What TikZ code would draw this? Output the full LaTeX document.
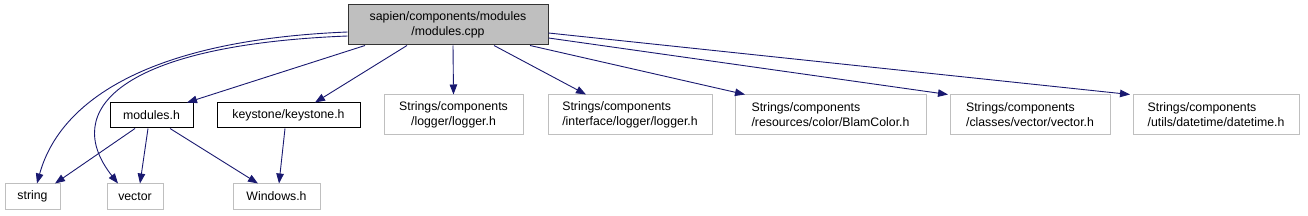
\documentclass[tikz,border=0pt]{standalone}
\usepackage{fontspec}
\setmainfont{Liberation Sans}
\usetikzlibrary{arrows.meta}
\definecolor{edgeblue}{HTML}{191970}
\definecolor{grayfill}{HTML}{BFBFBF}
\definecolor{grayline}{HTML}{BFBFBF}
\begin{document}
\begin{tikzpicture}[x=1pt,y=-1pt,
  every node/.style={font=\fontsize{12.3}{15}\selectfont, inner sep=0pt, text=black},
  ext/.style={draw=grayline, line width=1pt, fill=white},
  doc/.style={draw=black, line width=1pt, fill=white},
  rootbox/.style={draw=black!80, line width=1pt, fill=grayfill},
  dep/.style={draw=edgeblue, line width=0.9pt, -{Triangle[length=10pt,width=7.5pt]}}]
\useasboundingbox (0,0) rectangle (1308,216);
% nodes
\node[rootbox, minimum width=200pt, minimum height=40pt, align=center] (root) at (448,25) {sapien/components/modules\\/modules.cpp};
\node[doc, minimum width=83pt, minimum height=25pt] (modh) at (151.5,115.5) {modules.h};
\node[doc, minimum width=143pt, minimum height=25pt] (key) at (288.5,115.5) {keystone/keystone.h};
\node[ext, minimum width=55pt, minimum height=25pt] (str) at (32.5,196.5) {string};
\node[ext, minimum width=56pt, minimum height=25pt] (vec) at (135,196.5) {vector};
\node[ext, minimum width=87pt, minimum height=25pt] (win) at (276.5,196.5) {Windows.h};
\node[ext, minimum width=139pt, minimum height=40pt, align=center] (log) at (453.5,115) {Strings/components\\/logger/logger.h};
\node[ext, minimum width=164pt, minimum height=40pt, align=left] (intf) at (630,115) {Strings/components\\/interface/logger/logger.h};
\node[ext, minimum width=191pt, minimum height=40pt, align=left] (blam) at (830.5,115) {Strings/components\\/resources/color/BlamColor.h};
\node[ext, minimum width=160pt, minimum height=40pt, align=left] (cvec) at (1030,115) {Strings/components\\/classes/vector/vector.h};
\node[ext, minimum width=166pt, minimum height=40pt, align=left] (dt) at (1216,115) {Strings/components\\/utils/datetime/datetime.h};
% edges
\draw[dep] ([yshift=-7pt]root.west) .. controls (150,40) and (60,100) .. ([xshift=4.5pt]str.north);
\draw[dep] ([yshift=-11pt]root.west) .. controls (120,45) and (60,110) .. ([xshift=-17pt]vec.north);
\draw[dep] ([xshift=-83pt]root.south) -- ([xshift=35.5pt]modh.north);
\draw[dep] ([xshift=-41pt]root.south) -- ([xshift=26.5pt]key.north);
\draw[dep] ([xshift=5pt]root.south) -- (log.north);
\draw[dep] ([xshift=46pt]root.south) -- ([xshift=-44pt]intf.north);
\draw[dep] ([xshift=82pt]root.south) -- ([xshift=-85.5pt]blam.north);
\draw[dep] ([yshift=-13pt]root.east) -- ([xshift=-82pt]cvec.north);
\draw[dep] ([yshift=-8pt]root.east) -- ([xshift=-86pt]dt.north);
\draw[dep] ([xshift=-16.5pt]modh.south) -- ([xshift=22.5pt]str.north);
\draw[dep] ([xshift=-3.5pt]modh.south) -- ([xshift=5pt]vec.north);
\draw[dep] ([xshift=18.5pt]modh.south) -- ([xshift=-18.5pt]win.north);
\draw[dep] ([xshift=-3.5pt]key.south) -- ([xshift=2.5pt]win.north);
\end{tikzpicture}
\end{document}
